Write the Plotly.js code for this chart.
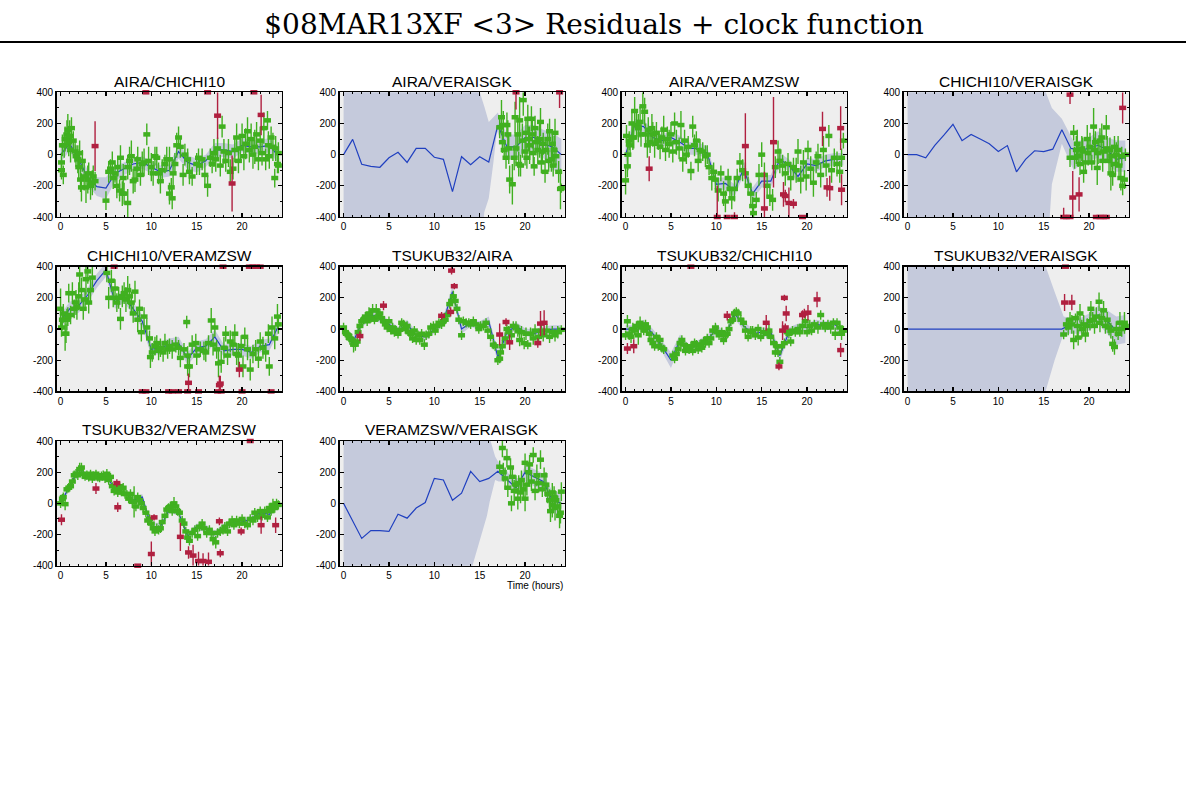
<!DOCTYPE html>
<html><head><meta charset="utf-8">
<script src="https://cdn.plot.ly/plotly-3.0.1.min.js"></script>
<style>html,body{margin:0;padding:0;background:#fff}</style></head>
<body><div id="chart"></div>
<script>
const pageTitle = "$08MAR13XF <3> Residuals + clock function";
const panelNames = ["AIRA/CHICHI10","AIRA/VERAISGK","AIRA/VERAMZSW","CHICHI10/VERAISGK","CHICHI10/VERAMZSW","TSUKUB32/AIRA","TSUKUB32/CHICHI10","TSUKUB32/VERAISGK","TSUKUB32/VERAMZSW","VERAMZSW/VERAISGK"];
const hours = [0,1,2,3,4,5,6,7,8,9,10,11,12,13,14,15,16,17,18,19,20,21,22,23,24];

// clock functions, one value per hour
const clock1 = [0,70,-30,-150,-205,-215,-120,-90,-60,-50,-80,-110,-100,20,-50,-70,-40,30,30,20,60,50,50,60,-10];
const clock2 = [0,98,-62,-75,-81,-20,15,-50,40,40,-17,-30,-237,-13,-64,-13,-47,190,50,50,110,110,70,50,0];
const clock3 = [0,190,180,110,90,110,80,40,40,10,-190,-185,-230,-90,-250,-170,-170,-30,-70,-140,-60,-70,-40,-30,-30];
const clock4 = [0,0,-20,60,125,195,90,130,100,70,20,58,-110,-30,25,20,35,160,40,30,40,60,30,-30,-20];
const clock5 = [50,130,150,220,310,380,170,210,130,50,-130,-120,-100,-90,-190,-120,-110,-50,-140,-130,-130,-150,-110,-100,20];
const clock6 = [0,-90,40,90,70,30,-10,30,-40,-50,0,50,240,0,40,20,50,-180,-20,20,-20,-30,-10,0,0];
const clock7 = [0,0,30,-30,-110,-200,-70,-130,-100,-70,0,-50,100,20,-30,-20,-20,-170,-20,10,10,30,20,30,-10];
const clock8 = [0,0,0,0,0,0,0,0,0,0,0,0,0,0,0,0,0,0,30,20,40,90,50,-10,0];
const clock9 = [0,110,220,170,170,180,90,70,20,40,-150,-150,-40,-60,-210,-150,-160,-200,-150,-120,-120,-100,-60,-70,0];
const clock10 = [0,-110,-225,-175,-175,-180,-70,-95,-30,5,160,150,20,65,205,140,160,205,150,100,200,170,140,20,0];

// uncertainty envelopes of the clock functions
const bandX1 = hours;
const bandHi1 = [50,115,15,-100,-145,-145,-70,-50,-20,-10,-40,-70,-60,65,-5,-25,0,75,75,65,105,95,95,105,35];
const bandLo1 = [-50,25,-75,-200,-265,-285,-170,-130,-100,-90,-120,-150,-140,-25,-95,-115,-80,-15,-15,-25,15,5,5,15,-55];
const bandX2 = [0,14.9,15.5,16,16.5,16.9,17,18,19,20,21,22,23,24];
const bandHi2 = [900,420,310,210,240,265,270,130,130,190,190,160,140,100];
const bandLo2 = [-900,-900,-370,-280,-55,150,140,-30,-30,30,20,-20,-100,-110];
const bandX3 = hours;
const bandHi3 = [60,230,220,155,130,150,120,80,80,50,-150,-145,-190,-50,-210,-130,-130,10,-30,-100,-20,-30,0,10,10];
const bandLo3 = [-60,150,140,65,50,70,40,0,0,-30,-230,-225,-270,-130,-290,-210,-210,-70,-110,-180,-100,-110,-80,-70,-70];
const bandX4 = [0,15.1,15.9,17,18.3,19,20,21,22,23,24];
const bandHi4 = [900,420,300,230,85,90,110,150,110,90,90];
const bandLo4 = [-900,-900,-190,70,-100,-70,-40,-20,-50,-110,-110];
const bandX5 = hours;
const bandHi5 = [95,175,195,265,355,425,210,250,170,90,-90,-80,-60,-50,-150,-80,-65,-5,-100,-90,-90,-110,-70,-60,65];
const bandLo5 = [5,85,105,175,265,335,130,170,90,10,-170,-160,-140,-130,-230,-160,-155,-95,-180,-170,-170,-190,-150,-140,-25];
const bandX6 = hours;
const bandHi6 = [25,-60,70,120,100,55,15,60,-15,-25,25,80,280,30,65,50,80,-140,10,45,5,-5,15,25,25];
const bandLo6 = [-25,-120,10,60,40,5,-35,0,-65,-75,-25,20,200,-30,15,-10,20,-220,-50,-5,-45,-55,-35,-25,-25];
const bandX7 = hours;
const bandHi7 = [25,25,60,0,-75,-150,-35,-100,-70,-40,30,-20,130,50,0,10,10,-135,10,35,35,60,50,60,20];
const bandLo7 = [-25,-25,0,-60,-145,-250,-105,-160,-130,-100,-30,-80,70,-10,-60,-50,-50,-205,-50,-15,-15,0,-10,0,-40];
const bandX8 = [0,15.1,16.2,17.2,18,19,20,21,22,23,24];
const bandHi8 = [900,420,240,80,70,70,100,150,120,80,90];
const bandLo8 = [-900,-420,-200,-30,-30,-30,-10,30,-30,-100,-90];
const bandX9 = hours;
const bandHi9 = [20,130,245,190,190,200,110,90,40,60,-125,-125,-20,-40,-190,-130,-135,-175,-130,-100,-100,-80,-40,-50,20];
const bandLo9 = [-20,90,195,150,150,160,70,50,0,20,-175,-175,-60,-80,-230,-170,-185,-225,-170,-140,-140,-120,-80,-90,-20];
const bandX10 = [0,14.1,15,15.8,16.1,16.7,17.1,18,18.4,19.5,20,21,22,23,24];
const bandHi10 = [900,900,900,900,420,300,260,210,170,160,250,220,190,80,70];
const bandLo10 = [-900,-420,-250,-80,10,150,140,140,100,60,140,110,80,-50,-90];

// residuals kept by the clock fit: [hour, value, error]
const good1 = [[0.1,-50,60],[0.1,-100,60],[0.2,60,70],[0.3,-130,60],[0.4,60,80],[0.5,100,80],[0.7,130,90],[0.8,160,100],[0.9,80,90],[1,120,100],[1.1,30,80],[1.2,170,70],[1.4,90,60],[1.6,20,70],[1.7,-10,70],[1.9,-30,90],[2,-80,70],[2.1,10,80],[2.2,-160,80],[2.3,-210,90],[2.4,-40,70],[2.6,-140,90],[2.8,-210,100],[3,-160,90],[3.1,-120,70],[3.3,-200,90],[3.5,-180,80],[3.6,-140,70],[3.8,-170,60],[5,-295,60],[5.3,-110,70],[5.5,-90,60],[5.7,-50,70],[5.8,-150,70],[6,-120,60],[6.2,-200,80],[6.3,-80,60],[6.5,-230,70],[6.6,-20,80],[6.8,-250,80],[6.9,-150,90],[7,-250,70],[7.4,-310,90],[7.4,-80,80],[7.6,-40,90],[7.8,-10,100],[8,-170,80],[8.2,-160,80],[8.4,-90,80],[8.5,-30,80],[8.8,-130,70],[9,-60,80],[9.2,-50,90],[9.5,130,70],[9.7,-40,90],[10,-80,90],[10.2,-120,80],[10.4,-10,60],[10.6,-20,70],[10.8,-120,70],[11,-170,80],[11.2,-100,70],[11.5,-60,60],[11.7,-30,80],[12,-30,80],[12,-250,70],[12.2,-210,60],[12.3,-280,70],[12.4,-120,90],[12.6,-60,70],[12.8,60,80],[13,110,70],[13.2,50,70],[13.5,-130,70],[13.7,0,70],[14,-30,70],[14.2,-110,80],[14.5,-140,60],[15,-60,70],[15.2,-20,60],[15.3,-70,60],[15.6,-30,70],[15.9,-130,80],[16.2,-200,70],[16.5,-20,60],[16.7,-60,60],[16.9,10,90],[17.1,-30,80],[17.3,40,70],[17.6,-70,70],[17.8,180,70],[18,20,80],[18.2,-40,70],[18.5,10,90],[18.7,-110,80],[19,-90,70],[19.2,30,80],[19.4,110,90],[19.6,-40,80],[19.8,40,70],[20,120,80],[20.2,-10,90],[20.4,70,100],[20.6,150,90],[20.8,30,80],[21,100,100],[21.2,0,90],[21.4,50,110],[21.6,130,80],[21.8,-30,70],[22,90,90],[22.2,10,80],[22.4,170,100],[22.6,-30,70],[22.8,220,60],[22.9,60,90],[23,-10,80],[23.2,110,70],[23.4,50,90],[23.6,-150,60],[23.7,40,80],[23.9,-60,60],[24,-70,50],[24,10,70]];
const good2 = [[17.2,175,70],[17.4,240,110],[17.5,80,70],[17.6,190,90],[17.7,30,60],[17.9,-20,70],[18,190,80],[18.1,130,90],[18.2,40,100],[18.3,-160,90],[18.6,-190,130],[18.8,-20,80],[18.9,240,100],[19,40,90],[19.2,130,110],[19.3,-60,80],[19.4,220,150],[19.5,-70,70],[19.7,90,110],[19.8,350,100],[20,20,90],[20.1,140,100],[20.2,-20,70],[20.3,230,90],[20.4,100,80],[20.5,60,120],[20.7,230,80],[20.8,130,90],[20.9,10,80],[21,-75,60],[21.1,170,80],[21.2,80,70],[21.4,30,90],[21.6,100,120],[21.7,210,90],[21.8,-50,70],[21.9,20,80],[22,70,70],[22.2,-110,70],[22.3,30,70],[22.5,100,100],[22.6,-40,70],[22.7,150,80],[22.9,-30,80],[23,70,90],[23.1,-70,70],[23.2,30,90],[23.3,140,90],[23.4,-10,60],[23.7,-110,70],[23.9,-220,130],[24,-215,30]];
const good3 = [[0,-165,90],[0.1,120,70],[0.2,-75,70],[0.25,0,100],[0.4,90,60],[0.5,60,70],[0.7,200,90],[0.8,110,80],[0.9,110,70],[1,280,90],[1.2,190,80],[1.4,170,90],[1.6,210,100],[1.7,130,80],[1.9,310,90],[2.1,275,90],[2.2,130,70],[2.4,60,80],[2.5,160,80],[2.7,80,70],[2.9,170,90],[3,130,80],[3.2,70,90],[3.4,140,70],[3.6,90,60],[3.8,50,80],[4,110,70],[4.2,160,90],[4.4,30,70],[4.6,100,80],[4.8,70,90],[5,130,80],[5.2,20,70],[5.4,200,70],[5.6,80,80],[5.9,40,70],[6.1,190,90],[6.3,-30,80],[6.5,90,70],[6.7,0,60],[6.9,50,70],[7.2,-105,60],[7.4,180,70],[7.6,60,70],[7.8,90,60],[8,-40,70],[8.2,30,70],[8.5,20,60],[8.8,-10,70],[9,0,60],[9.2,-80,50],[9.5,-150,80],[9.7,-110,60],[9.9,-160,60],[10.2,-230,70],[10.5,-120,50],[10.8,-250,80],[11,-300,70],[11.3,-150,60],[11.5,-220,70],[11.7,-280,70],[12,-220,80],[12.3,-150,60],[12.6,-50,60],[12.9,-100,70],[13.2,-120,70],[13.5,-200,60],[13.8,-250,70],[14,-330,60],[14.1,-375,40],[14.4,-290,50],[14.7,-130,70],[15,0,80],[15.3,-130,80],[15.6,-200,80],[15.9,-270,60],[16.2,-290,70],[16.5,-80,70],[16.8,20,70],[17,-40,80],[17.3,-70,70],[17.6,-120,80],[17.9,-60,70],[18.2,-150,80],[18.5,-80,60],[18.8,-100,80],[19,20,80],[19.3,-160,90],[19.6,-50,80],[19.9,-140,90],[20.1,30,60],[20.4,-90,80],[20.7,-180,90],[21,-50,70],[21.2,-10,80],[21.5,-130,80],[21.8,30,90],[22.1,-70,70],[22.4,120,70],[22.7,-100,80],[23,-20,60],[23.3,-60,80],[23.6,-110,70],[23.8,-20,60],[24,90,50]];
const good4 = [[17.9,-20,60],[18.3,140,50],[18.4,-20,70],[18.6,30,90],[18.7,70,90],[18.8,-10,70],[19,-60,70],[19.2,40,80],[19.3,20,90],[19.4,-110,70],[19.6,-50,60],[19.8,100,90],[19.9,10,80],[20.1,50,90],[20.3,-50,50],[20.5,180,120],[20.6,30,80],[20.7,80,70],[20.9,-85,110],[21,10,70],[21.2,90,80],[21.4,110,90],[21.5,-40,70],[21.6,20,70],[21.9,175,80],[22,40,80],[22.2,-40,70],[22.3,30,80],[22.4,-120,110],[22.5,-10,70],[22.6,-130,70],[22.8,50,70],[22.9,-60,70],[23,0,80],[23.2,30,90],[23.3,-70,70],[23.5,-150,80],[23.6,-10,60],[23.7,-200,60],[23.9,-160,60],[24,0,40]];
const good5 = [[0,130,130],[0.1,10,60],[0.2,60,70],[0.3,100,60],[0.5,-30,110],[0.6,-30,60],[0.7,60,70],[0.8,80,60],[0.9,230,60],[1.1,90,60],[1.3,230,70],[1.5,130,60],[1.7,170,80],[1.8,140,80],[2,210,90],[2.1,350,90],[2.3,250,80],[2.5,130,70],[2.7,190,70],[2.8,320,100],[3,370,80],[3.1,170,70],[3.3,250,70],[3.5,330,80],[5.1,360,60],[5.3,200,70],[5.6,310,70],[5.8,200,60],[6,260,60],[6.2,170,60],[6.4,200,70],[6.6,65,70],[6.8,210,70],[7,230,70],[7.2,190,80],[7.4,250,90],[7.6,210,80],[7.8,170,70],[8,100,60],[8.2,240,70],[8.5,60,80],[8.7,130,60],[8.9,-20,60],[9.2,80,60],[9.5,10,60],[9.8,-60,50],[9.9,-180,70],[10.1,-150,60],[10.4,-110,60],[10.6,-90,50],[10.8,-140,60],[11,-120,60],[11.3,-150,60],[11.5,-90,60],[11.8,-130,60],[12,-110,50],[12.3,-130,60],[12.7,-100,50],[13,-120,50],[13.2,-185,60],[13.6,-130,40],[13.9,45,40],[14,-170,60],[14,-240,60],[14.2,-240,70],[14.5,-100,60],[14.9,-90,60],[15,-170,60],[15.4,-130,50],[15.8,-140,60],[16,-150,60],[16.3,-90,50],[16.6,55,80],[16.8,-100,70],[17,10,60],[17.2,-130,60],[17.4,-220,90],[17.7,-210,70],[18,-120,70],[18.2,-30,50],[18.4,-170,60],[18.7,-80,70],[19,-100,70],[19.2,-30,60],[19.4,-160,70],[19.6,-170,80],[19.9,-110,70],[20.1,-240,70],[20.3,-50,60],[20.6,-130,70],[20.9,-260,70],[21.2,-160,60],[21.5,-130,60],[21.8,-190,60],[22,-80,60],[22.3,-120,70],[22.6,-150,60],[22.9,-30,60],[23,-240,60],[23.3,10,70],[23.6,-60,70],[23.9,80,80],[24,30,60]];
const good6 = [[0,10,30],[0.2,-20,30],[0.3,-30,40],[0.5,-40,30],[0.7,-60,40],[0.9,-70,40],[1.1,-100,50],[1.3,-100,40],[1.5,-80,30],[1.6,-20,30],[1.8,20,30],[2,50,30],[2.2,60,30],[2.4,80,30],[2.6,50,30],[2.8,100,40],[3,70,30],[3.2,120,40],[3.4,60,30],[3.6,120,40],[3.8,80,30],[4,100,30],[4.2,70,30],[4.4,50,30],[4.6,30,30],[4.8,10,30],[5,50,30],[5.2,-5,30],[5.4,10,30],[5.6,-20,30],[5.8,-10,30],[6,-30,30],[6.2,-5,30],[6.4,40,30],[6.6,30,30],[6.8,0,30],[7,20,30],[7.2,-20,30],[7.4,-30,30],[7.6,-60,30],[7.8,-10,30],[8,-70,30],[8.2,-40,30],[8.4,-70,30],[8.6,-30,30],[8.9,-100,35],[9.1,-40,30],[9.4,-30,30],[9.6,10,30],[9.9,20,30],[10.1,-10,30],[10.3,20,30],[10.5,40,30],[10.8,30,30],[11,50,30],[11.2,60,30],[11.4,90,30],[11.7,160,30],[11.9,180,30],[12.1,210,35],[12.3,180,30],[12.5,130,30],[12.7,60,30],[13,-40,30],[13.2,50,30],[13.5,40,30],[13.8,40,30],[14,30,30],[14.3,50,30],[14.6,30,30],[14.9,0,30],[15.1,20,30],[15.4,20,30],[15.7,40,30],[15.9,-10,30],[16.2,-50,30],[16.5,-100,30],[16.7,-110,30],[17,-200,30],[17.2,-190,30],[17.3,-150,30],[17.5,-110,40],[17.8,-60,40],[18,0,30],[18.2,-20,40],[18.5,-40,30],[18.7,20,30],[19,10,40],[19.2,-10,40],[19.4,-70,40],[19.6,-20,40],[19.9,-90,40],[20.1,-30,40],[20.3,-100,30],[20.6,-30,40],[20.9,-60,40],[21.1,-10,40],[21.5,-50,40],[21.8,-10,40],[22,-40,40],[22.4,-10,40],[22.7,-50,40],[23,-20,40],[23.3,-40,40],[23.6,-20,40],[24,-5,30]];
const good7 = [[0,-40,30],[0.2,50,40],[0.4,-30,40],[0.6,-50,40],[0.8,0,40],[1,-10,30],[1.2,20,30],[1.4,-40,60],[1.6,40,40],[1.8,10,30],[2,-10,30],[2.2,30,30],[2.4,10,30],[2.6,-30,30],[2.8,-70,30],[3,-90,30],[3.2,-110,30],[3.4,-50,30],[3.6,-110,30],[3.8,-70,30],[4,-120,30],[4.2,-130,30],[5.2,-170,30],[5.4,-190,30],[5.6,-160,30],[5.8,-130,30],[6,-90,30],[6.2,-70,30],[6.4,-100,30],[6.6,-140,30],[6.8,-120,30],[7,-130,30],[7.2,-110,30],[7.4,-140,30],[7.6,-90,30],[7.8,-100,30],[8,-130,30],[8.2,-100,30],[8.4,-120,30],[8.6,-80,30],[8.8,-90,30],[9,-60,30],[9.2,-90,30],[9.4,-60,30],[9.6,-10,30],[9.9,10,30],[10.1,-20,30],[10.3,-40,30],[10.6,-20,30],[10.8,-70,30],[11,-40,30],[11.2,-30,30],[11.4,0,30],[11.6,50,30],[11.8,60,30],[12,100,30],[12.2,110,30],[12.4,100,30],[12.7,60,30],[13,40,30],[13.2,-10,30],[13.5,-50,30],[13.8,-20,40],[14,-10,30],[14.3,-40,30],[14.6,0,30],[14.9,-50,30],[15.2,-20,30],[15.6,-30,30],[15.8,-10,40],[16,-50,30],[16.3,-90,30],[16.5,-150,30],[16.7,-110,30],[16.8,-150,30],[17,-210,30],[17.2,-110,30],[17.5,-90,30],[17.8,-20,30],[18,-30,30],[18.2,-80,30],[18.4,-10,30],[18.7,-20,30],[19,0,30],[19.2,-20,30],[19.5,20,30],[19.8,50,30],[20,-20,30],[20.3,20,40],[20.5,-10,30],[20.8,30,30],[21.2,10,40],[21.5,90,30],[21.8,30,30],[22,10,30],[22.3,30,30],[22.6,10,40],[22.9,40,30],[23.1,-30,40],[23.3,40,30],[23.6,10,40],[23.8,-30,40],[24,-10,30]];
const good8 = [[17.2,-35,30],[17.5,30,40],[17.7,10,50],[17.9,60,50],[18.1,30,60],[18.3,-70,60],[18.5,70,30],[18.7,20,70],[18.8,-55,50],[19,100,60],[19.2,0,60],[19.4,30,60],[19.6,-35,50],[19.8,20,50],[20.1,50,60],[20.2,130,50],[20.4,60,50],[20.6,20,50],[20.8,80,60],[21.1,175,60],[21.2,40,60],[21.4,70,50],[21.6,120,60],[21.8,20,50],[22,60,50],[22.2,10,50],[22.4,-10,50],[22.6,-95,50],[22.8,-115,50],[23,0,50],[23.2,-30,40],[23.4,40,70],[23.6,0,50],[23.9,40,70],[24,20,30]];
const good9 = [[0,0,30],[0.2,30,30],[0.3,40,30],[0.5,-5,40],[0.7,90,25],[0.9,100,30],[1.1,110,25],[1.3,140,25],[1.5,180,30],[1.7,190,30],[1.9,180,30],[2.1,220,40],[2.3,230,30],[2.5,190,30],[2.7,170,25],[2.9,180,30],[3.1,170,30],[3.3,190,25],[3.5,160,30],[3.7,170,25],[3.9,190,25],[4.1,170,30],[4.3,160,25],[4.5,180,25],[4.7,180,30],[4.9,160,30],[5.1,190,30],[5.3,150,30],[5.5,170,25],[5.7,110,25],[5.9,80,30],[6.1,90,30],[6.3,70,30],[6.5,110,25],[6.7,70,25],[6.9,100,30],[7.1,60,30],[7.3,60,25],[7.5,30,30],[7.7,60,30],[7.9,10,40],[8.1,10,100],[8.3,-20,30],[8.5,40,30],[8.7,20,25],[8.9,0,30],[9.1,-30,30],[9.4,-60,30],[9.6,-110,30],[9.8,-100,30],[10,-130,30],[10.2,-160,30],[10.4,-180,30],[10.6,-160,30],[10.8,-170,30],[11,-160,30],[11.2,-120,25],[11.5,-80,30],[11.7,-40,30],[11.9,-30,30],[12.1,-20,30],[12.3,-50,30],[12.5,0,40],[12.7,-20,30],[12.9,-50,30],[13.1,-60,30],[13.4,-110,30],[13.6,-130,30],[13.8,-180,30],[14,-220,35],[14.2,-240,30],[14.5,-190,30],[14.8,-170,30],[15.1,-210,30],[15.3,-150,30],[15.6,-130,30],[15.8,-160,30],[16.1,-190,30],[16.4,-170,30],[16.6,-190,30],[16.8,-230,40],[17.1,-250,40],[17.3,-190,30],[17.6,-180,30],[17.9,-170,30],[18.1,-150,30],[18.4,-180,30],[18.6,-130,30],[18.9,-110,30],[19.1,-140,30],[19.4,-110,30],[19.7,-130,30],[20,-100,30],[20.3,-130,30],[20.6,-140,30],[20.9,-100,30],[21.2,-110,30],[21.4,-60,30],[21.7,-90,30],[22,-50,30],[22.2,-80,30],[22.5,-50,30],[22.8,-90,30],[23,-30,30],[23.2,-50,30],[23.4,-10,40],[23.6,-30,30],[23.8,0,30],[24,-10,30]];
const good10 = [[17.2,235,40],[17.5,355,60],[17.6,200,60],[17.8,160,70],[18,290,60],[18.1,100,60],[18.4,230,60],[18.5,0,50],[18.6,170,60],[18.8,80,70],[19,120,60],[19.2,30,70],[19.3,130,50],[19.5,70,70],[19.6,150,60],[19.8,90,70],[20,260,60],[20,30,80],[20.2,120,70],[20.4,200,60],[20.5,250,60],[20.7,140,60],[20.9,310,50],[21.1,80,60],[21.3,180,70],[21.5,130,60],[21.7,280,60],[21.9,90,50],[22.1,180,50],[22.3,120,80],[22.5,60,60],[22.7,20,70],[22.8,-50,70],[23,70,60],[23,-10,80],[23.2,40,70],[23.3,-30,80],[23.4,20,60],[23.6,-20,70],[23.8,-80,80],[23.9,-60,70],[24,75,60]];

// flagged residuals: [hour, value, error]
const bad1 = [[9.4,400,0],[3.8,55,160],[16.2,400,0],[17.3,250,150],[18.9,-185,180],[21.3,400,0],[22.1,255,130]];
const bad2 = [[19,400,110],[23.8,400,100]];
const bad3 = [[2.6,-90,80],[10.1,-400,200],[11.2,-400,10],[12,-400,30],[13.2,55,210],[15.3,-345,235],[16.3,80,290],[17.4,-255,80],[17.6,-265,40],[18,-310,100],[18.5,-315,30],[19.5,-400,10],[21.7,165,110],[22.2,-210,60],[22.5,-215,80],[23.7,170,140],[23.8,-225,100]];
const bad4 = [[17.9,385,60],[23.7,300,100],[17.2,-400,60],[17.5,-400,0],[17.9,-405,0],[18.2,-275,170],[18.9,-255,110],[20.8,-400,0],[21.2,-400,0],[21.6,-400,0],[21.9,-400,0]];
const bad5 = [[5.9,400,0],[17.9,400,0],[20.8,400,0],[21.2,400,0],[21.6,400,0],[22,400,0],[9,-400,0],[9.4,-400,0],[11.9,-400,0],[12.3,-400,0],[13,-400,0],[14,-400,0],[15.2,-400,0],[17.3,-400,0],[17.7,-400,0],[20,-400,0],[23.2,-400,0],[14.1,-345,60],[17.5,-360,60],[17.6,-350,50],[19.7,-260,50]];
const bad6 = [[1.8,-45,30],[4.4,150,30],[10.8,85,25],[11.8,110,30],[11.9,375,25],[12.2,275,20],[17.2,-35,70],[17.9,45,25],[18.3,-85,50],[21.4,-90,30],[21.7,35,80],[22.1,40,80]];
const bad7 = [[7.2,400,0],[0.2,-125,35],[0.9,-110,45],[11.2,85,30],[15.5,40,50],[16.9,-240,25],[17.3,-10,60],[17.6,10,25],[17.5,200,20],[17.7,100,50],[19.5,90,30],[19.7,100,30],[20.1,105,50],[21.1,190,50],[23.7,-135,45]];
const bad8 = [[17.4,400,0],[17.3,170,55],[18.1,170,50]];
const bad9 = [[0.1,-105,35],[3.9,95,35],[6.2,130,25],[6.3,-25,30],[8.5,-400,0],[10,-325,80],[10.3,-90,20],[13.2,-215,90],[14.1,-315,40],[14.6,-335,70],[15.2,-370,60],[15.7,-370,50],[16.3,-375,60],[17.5,-115,25],[17.6,-320,25],[19.9,-180,25],[20.9,400,0],[22.1,-140,55],[23.7,-140,50]];
const bad10 = [];

const clocks = [clock1,clock2,clock3,clock4,clock5,clock6,clock7,clock8,clock9,clock10];
const bandXs = [bandX1,bandX2,bandX3,bandX4,bandX5,bandX6,bandX7,bandX8,bandX9,bandX10];
const bandHis = [bandHi1,bandHi2,bandHi3,bandHi4,bandHi5,bandHi6,bandHi7,bandHi8,bandHi9,bandHi10];
const bandLos = [bandLo1,bandLo2,bandLo3,bandLo4,bandLo5,bandLo6,bandLo7,bandLo8,bandLo9,bandLo10];
const goods = [good1,good2,good3,good4,good5,good6,good7,good8,good9,good10];
const bads = [bad1,bad2,bad3,bad4,bad5,bad6,bad7,bad8,bad9,bad10];

// layout
const W = 1186, H = 791;
const colLeft = [56.5,339.5,621.5,903.5], panelW = 225.5;
const rowTop = [92.3,266.7,441], panelH = 124.7;
const GREEN = "#40b020", RED = "#b02040", BAND = "#c5cadc", LINE = "#2040c0";
const tickFont = {family:"Liberation Sans", size:10, color:"#000"};

const data = [], layout = {
  width:W, height:H, margin:{l:0,r:0,t:0,b:0}, showlegend:false,
  paper_bgcolor:"#fff", plot_bgcolor:"#eeeeee",
  title:{text:pageTitle, font:{family:"DejaVu Serif", size:28, color:"#000"}, x:594/W, xanchor:"center", y:1-24/H, yanchor:"middle"},
  shapes:[{type:"line",xref:"paper",yref:"paper",x0:0,x1:1,y0:1-42/H,y1:1-42/H,line:{color:"#000",width:2}}],
  annotations:[]
};

function points(list, color, k){
  const xa = k ? "x"+(k+1) : "x", ya = k ? "y"+(k+1) : "y";
  return {
    type:"scatter", mode:"markers", xaxis:xa, yaxis:ya, cliponaxis:false,
    x:list.map(p=>p[0]), y:list.map(p=>Math.max(-400,Math.min(400,p[1]))),
    error_y:{type:"data", symmetric:false,
      array:list.map(p=>Math.min(p[2],Math.max(0,400-p[1]))),
      arrayminus:list.map(p=>Math.min(p[2],Math.max(0,p[1]+400))),
      color:color, thickness:1.4, width:0},
    marker:{symbol:"line-ew", size:5, line:{color:color,width:4.5}},
    hoverinfo:"skip"
  };
}

panelNames.forEach((name,k)=>{
  const xa = k ? "x"+(k+1) : "x", ya = k ? "y"+(k+1) : "y";
  const c = k%4, r = Math.floor(k/4);
  const bx = bandXs[k];
  data.push({type:"scatter",mode:"lines",xaxis:xa,yaxis:ya,line:{width:0},fill:"toself",fillcolor:BAND,
    x:bx.concat(bx.slice().reverse()), y:bandHis[k].concat(bandLos[k].slice().reverse()), hoverinfo:"skip"});
  data.push({type:"scatter",mode:"lines",xaxis:xa,yaxis:ya,line:{color:LINE,width:1.2},x:hours,y:clocks[k],hoverinfo:"skip"});
  data.push(points(goods[k],GREEN,k));
  if (bads[k].length) data.push(points(bads[k],RED,k));
  const common = {showgrid:false,zeroline:false,showline:true,linecolor:"#000",linewidth:1.4,mirror:"allticks",
    ticks:"inside",ticklen:4,tickwidth:1.2,tickcolor:"#000",tickfont:tickFont};
  layout[k?"xaxis"+(k+1):"xaxis"] = Object.assign({},common,{
    domain:[colLeft[c]/W,(colLeft[c]+panelW)/W], anchor:ya, range:[-0.45,24.4],
    tickvals:[0,5,10,15,20], ticktext:["0","5","10","15","20"],
    minor:{dtick:1,ticks:"inside",ticklen:2,tickwidth:1,tickcolor:"#000",showgrid:false}});
  layout[k?"yaxis"+(k+1):"yaxis"] = Object.assign({},common,{
    domain:[1-(rowTop[r]+panelH)/H,1-rowTop[r]/H], anchor:xa, range:[-400,400],
    tickvals:[-400,-200,0,200,400], ticktext:["-400","-200","0","200","400"],
    minor:{dtick:100,ticks:"inside",ticklen:2,tickwidth:1,tickcolor:"#000",showgrid:false}});
  layout.annotations.push({xref:"paper",yref:"paper",x:(colLeft[c]+panelW/2)/W,y:1-(rowTop[r]-1.5)/H,
    xanchor:"center",yanchor:"bottom",showarrow:false,text:name,borderpad:0,
    font:{family:"Liberation Sans",size:15.5,color:"#000"}});
});
layout.annotations.push({xref:"paper",yref:"paper",x:564.5/W,y:1-585/H,xanchor:"right",yanchor:"middle",
  showarrow:false,text:"Time (hours)",font:tickFont});

Plotly.newPlot("chart",data,layout,{displayModeBar:false,staticPlot:true});
</script></body></html>
